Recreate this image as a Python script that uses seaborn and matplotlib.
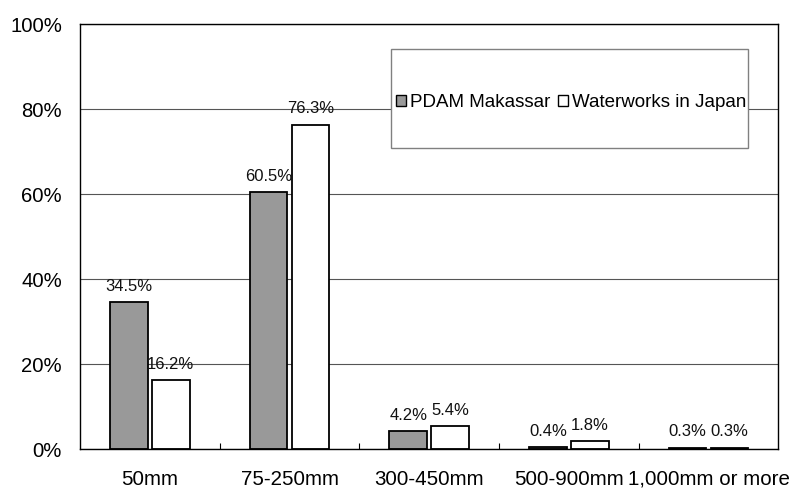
import matplotlib
matplotlib.use("Agg")
import matplotlib.pyplot as plt
import matplotlib.patches as mpatches
from matplotlib.ticker import FuncFormatter
import seaborn as sns
import pandas as pd

# Share of pipe length by diameter class
categories = ["50mm", "75-250mm", "300-450mm", "500-900mm", "1,000mm or more"]
pdam_makassar = [34.5, 60.5, 4.2, 0.4, 0.3]
waterworks_japan = [16.2, 76.3, 5.4, 1.8, 0.3]
series_names = ["PDAM Makassar", "Waterworks in Japan"]
y_ticks = [0, 20, 40, 60, 80, 100]

df = pd.DataFrame({
    "diameter": categories * 2,
    "share": pdam_makassar + waterworks_japan,
    "source": [series_names[0]] * len(categories) + [series_names[1]] * len(categories),
})

sns.set_style("white")
plt.rcParams["font.family"] = ["Liberation Sans", "DejaVu Sans"]

fig = plt.figure(figsize=(7.94, 4.88), dpi=100)
ax = fig.add_axes([0.1008, 0.0799, 0.8795, 0.8709])

palette = {series_names[0]: "#999999", series_names[1]: "#ffffff"}
sns.barplot(data=df, x="diameter", y="share", hue="source", order=categories,
            hue_order=series_names, palette=palette, width=0.6, gap=0.1,
            edgecolor="black", linewidth=1.3, saturation=1, legend=False, ax=ax)

for cont in ax.containers:
    ax.bar_label(cont, fmt="%.1f%%", padding=6, fontsize=12, color="#111111")

ax.set_ylim(0, 100)
ax.set_yticks(y_ticks)
ax.yaxis.set_major_formatter(FuncFormatter(lambda v, _: f"{v:.0f}%"))
ax.set_xlim(-0.5, len(categories) - 0.5)
ax.set_xticks([i - 0.5 for i in range(1, len(categories))], minor=True)
ax.tick_params(axis="x", which="minor", direction="in", length=4, width=0.8,
               color="black", bottom=True)
ax.tick_params(axis="x", which="major", length=0, pad=15, labelsize=14.8,
               labelcolor="black")
ax.tick_params(axis="y", length=0, pad=13, labelsize=14.6, labelcolor="black")
ax.set_xlabel("")
ax.set_ylabel("")

ax.grid(axis="y", color="#555555", linewidth=0.8)
ax.set_axisbelow(True)
for s in ax.spines.values():
    s.set_color("black")
    s.set_linewidth(1.0)
    s.set_visible(True)

# Legend box with a single row of entries
box = mpatches.Rectangle((0.446, 0.708), 0.51, 0.233, transform=ax.transAxes,
                         facecolor="white", edgecolor="#808080", linewidth=1.0,
                         zorder=5)
ax.add_patch(box)
handles = [mpatches.Patch(facecolor=palette[n], edgecolor="black", linewidth=1.0)
           for n in series_names]
leg = ax.legend(handles, series_names, loc="center", bbox_to_anchor=(0.703, 0.815),
                ncol=2, frameon=False, fontsize=13.5, handlelength=0.55,
                handleheight=0.55, handletextpad=0.2, columnspacing=0.4,
                borderpad=0, labelcolor="black")
leg.set_zorder(6)

fig.savefig("out.png", dpi=100)
